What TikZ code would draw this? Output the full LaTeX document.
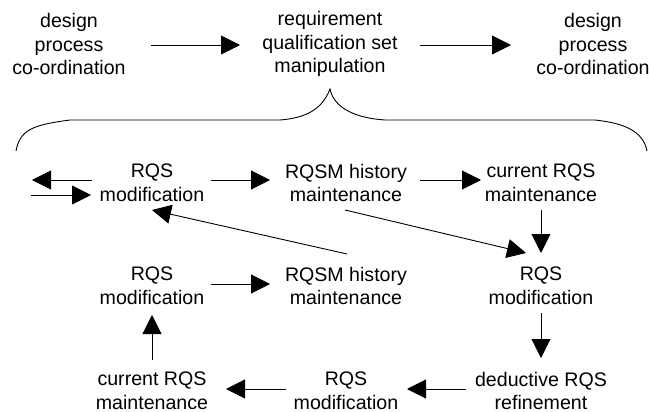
\documentclass[tikz,border=0pt]{standalone}
\usepackage{fontspec}
\setmainfont{Liberation Sans}
\usetikzlibrary{arrows.meta}
\tikzset{
  lbl/.style={align=center,inner sep=0pt,font=\fontsize{19.6}{23.8}\selectfont},
  arr/.style={line width=0.9pt,-{Triangle[length=19pt,width=19pt]}},
  brace/.style={line width=0.9pt}
}
\begin{document}
\begin{tikzpicture}[x=1pt,y=-1pt]
\useasboundingbox (0,0) rectangle (649,412);
\node[lbl] (d1) at (69,44) {design\\process\\co-ordination};
\node[lbl] (rq) at (330,44) {requirement\\qualification set\\manipulation};
\node[lbl] (d2) at (593,44) {design\\process\\co-ordination};
\node[lbl] (a1) at (152,183) {RQS\\modification};
\node[lbl] (a2) at (346,183) {RQSM history\\maintenance};
\node[lbl] (a3) at (541,183) {current RQS\\maintenance};
\node[lbl] (b1) at (152,286) {RQS\\modification};
\node[lbl] (b2) at (346,286) {RQSM history\\maintenance};
\node[lbl] (b3) at (541,286) {RQS\\modification};
\node[lbl] (c1) at (152,391) {current RQS\\maintenance};
\node[lbl] (c2) at (346,391) {RQS\\modification};
\node[lbl] (c3) at (541,391) {deductive RQS\\refinement};
\coordinate (ola) at (32,180);
\coordinate (olb) at (31,195);
\draw[arr,shorten <=82pt,shorten >=90pt] ([yshift=-1pt]d1.center) -- ([yshift=-1pt]rq.center);
\draw[arr,shorten <=90pt,shorten >=82pt] ([yshift=-1pt]rq.center) -- ([yshift=-1pt]d2.center);
\draw[arr,shorten <=60pt] ([yshift=3pt]a1.center) -- (ola);
\draw[arr,shorten >=61pt] (olb) -- ([yshift=-12pt]a1.center);
\draw[arr,shorten <=59pt,shorten >=76pt] ([yshift=3pt]a1.center) -- ([yshift=3pt]a2.center);
\draw[arr,shorten <=74pt,shorten >=60pt] ([yshift=3pt]a2.center) -- ([yshift=3pt]a3.center);
\draw[arr,shorten <=27pt,shorten >=33pt] (a3.center) -- (b3.center);
\draw[arr] ([xshift=-1pt,yshift=-27pt]a2.center) -- ([xshift=-15pt,yshift=33pt]b3.center);
\draw[arr] ([xshift=1pt,yshift=32pt]b2.center) -- ([yshift=-27pt]a1.center);
\draw[arr,shorten <=59pt,shorten >=76pt] ([yshift=2pt]b1.center) -- ([yshift=2pt]b2.center);
\draw[arr,shorten <=27pt,shorten >=33pt] (b3.center) -- (c3.center);
\draw[arr,shorten <=31pt,shorten >=29pt] (c1.center) -- (b1.center);
\draw[arr,shorten <=75pt,shorten >=61pt] ([yshift=2pt]c3.center) -- ([yshift=2pt]c2.center);
\draw[arr,shorten <=60pt,shorten >=74pt] ([yshift=2pt]c2.center) -- ([yshift=2pt]c1.center);
\draw[brace] (16,151) .. controls (20,130) and (32,125) .. (70,120) -- (280,120)
  .. controls (305,118) and (322,110) .. (330,89)
  .. controls (334,108) and (355,118) .. (385,120) -- (595,120)
  .. controls (622,123) and (643,130) .. (647,151);
\end{tikzpicture}
\end{document}
